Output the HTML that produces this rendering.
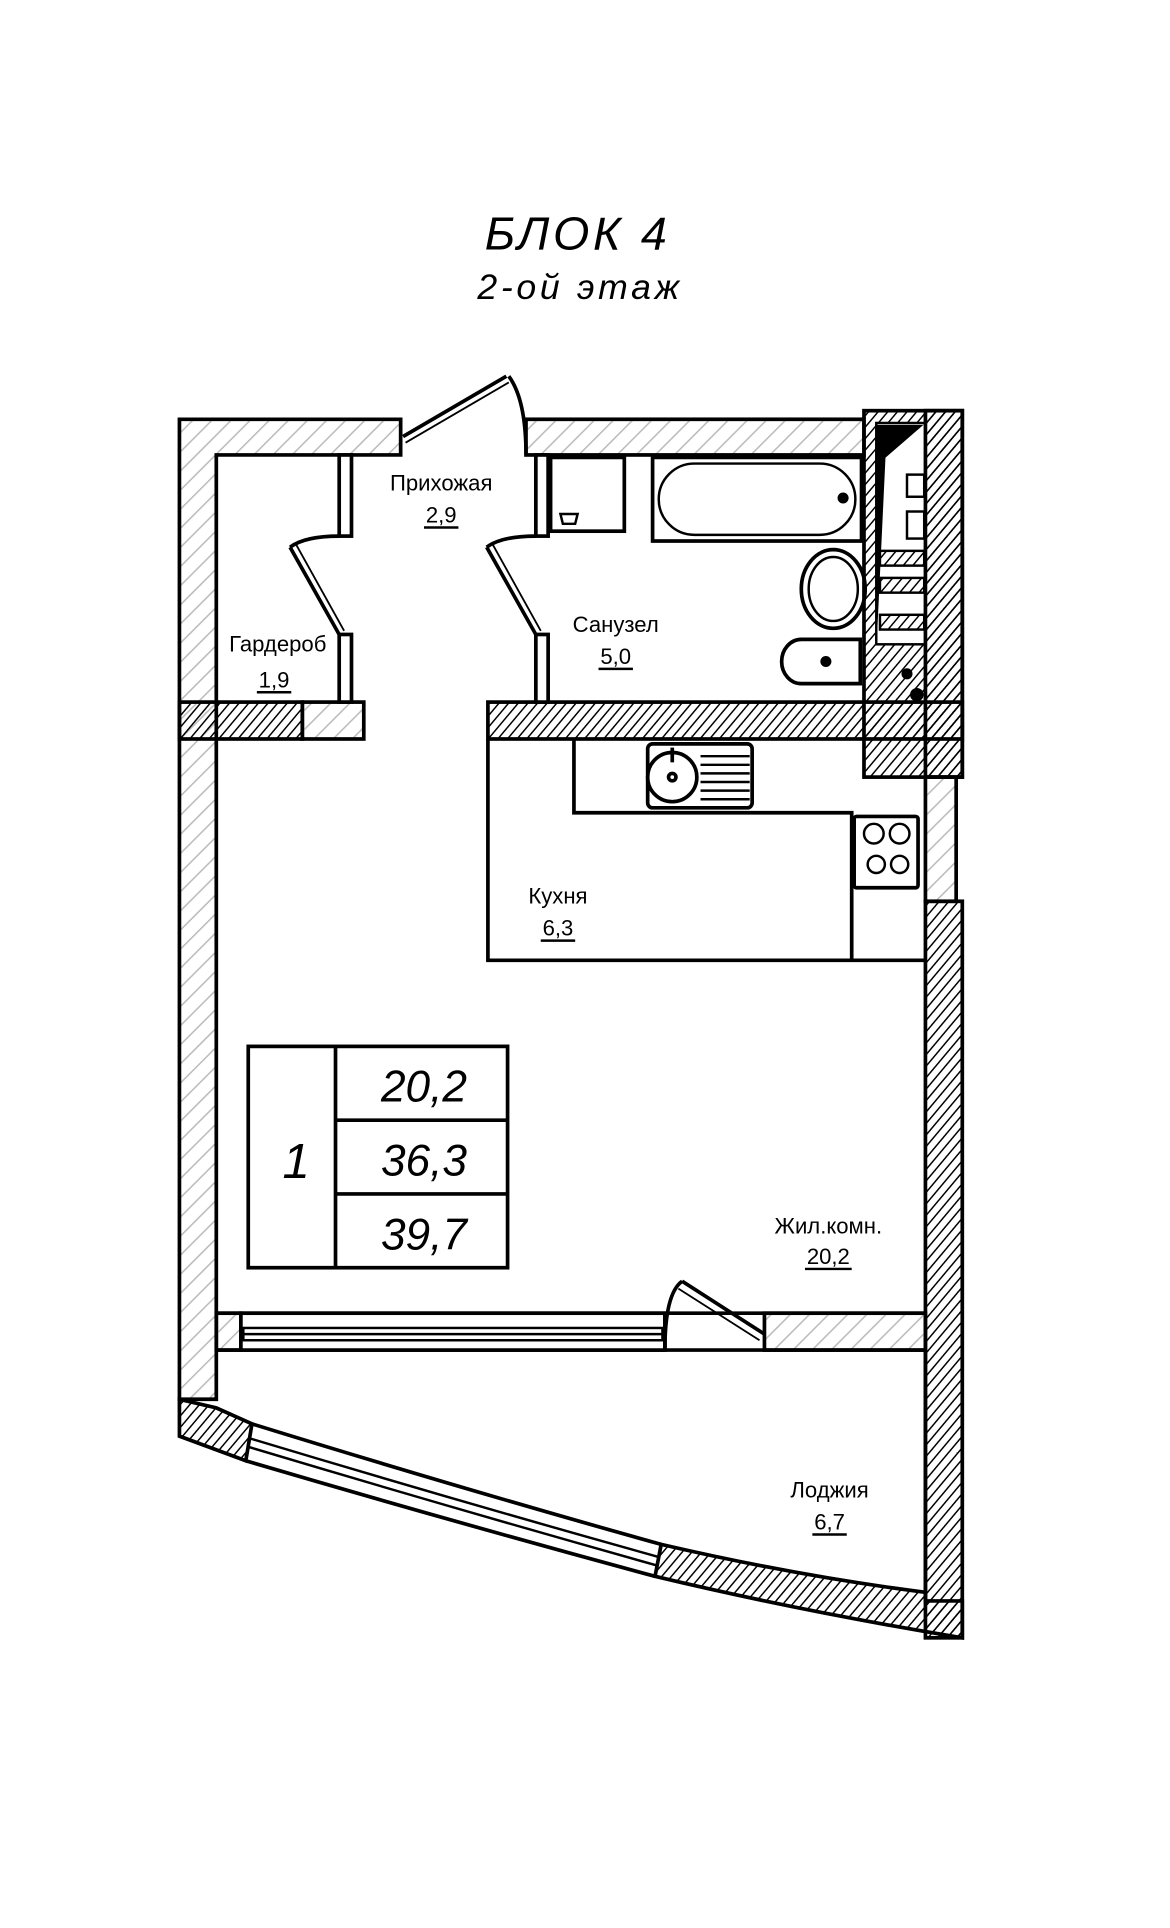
<!DOCTYPE html>
<html><head><meta charset="utf-8"><style>
html,body{margin:0;padding:0;background:#fff;}
svg{display:block;}
text{font-family:"Liberation Sans",sans-serif;}
</style></head><body>
<svg width="1170" height="1928" viewBox="0 0 952 1568" preserveAspectRatio="none" xmlns="http://www.w3.org/2000/svg">
<defs>
<pattern id="lt" patternUnits="userSpaceOnUse" width="11" height="11" patternTransform="rotate(45)">
<line x1="0" y1="0" x2="0" y2="11" stroke="#bbb" stroke-width="2.5"/></pattern>
<pattern id="dk" patternUnits="userSpaceOnUse" width="6" height="6" patternTransform="rotate(40)">
<line x1="0" y1="0" x2="0" y2="6" stroke="#000" stroke-width="2.4"/></pattern>
</defs>
<rect width="952" height="1568" fill="#fff"/>

<text x="470" y="203" font-size="38" font-style="italic" text-anchor="middle" letter-spacing="3">БЛОК 4</text>
<text x="472" y="243" font-size="29" font-style="italic" text-anchor="middle" letter-spacing="3">2-ой этаж</text>

<g stroke="#000" stroke-width="3">
<path d="M146,341 H326 V370 H176 V1138 H146 Z" fill="url(#lt)"/>
<rect x="428" y="341" width="275" height="29" fill="url(#lt)"/>
<rect x="703" y="334" width="80" height="298" fill="url(#dk)"/>
<rect x="713" y="344" width="40" height="180" fill="#fff" stroke-width="2"/>
<rect x="753" y="334" width="30" height="298" fill="url(#dk)"/>
<polygon points="713,346 750,346 720,372 713,520" fill="#000" stroke-width="1"/>
<rect x="738" y="386" width="14" height="18" fill="#fff" stroke-width="2"/>
<rect x="738" y="416" width="14" height="22" fill="#fff" stroke-width="2"/>
<rect x="716" y="448" width="36" height="12" fill="url(#dk)" stroke-width="2"/>
<rect x="716" y="470" width="36" height="12" fill="url(#dk)" stroke-width="2"/>
<rect x="716" y="500" width="36" height="12" fill="url(#dk)" stroke-width="2"/>
<rect x="146" y="571" width="100" height="30" fill="url(#dk)"/>
<rect x="246" y="571" width="50" height="30" fill="url(#lt)"/>
<rect x="397" y="571" width="386" height="30" fill="url(#dk)"/>
<rect x="753" y="632" width="25" height="101" fill="url(#lt)"/>
<rect x="753" y="733" width="30" height="599" fill="url(#dk)"/>
<rect x="276" y="370" width="10" height="66" fill="#fff"/>
<rect x="276" y="516" width="10" height="55" fill="#fff"/>
<rect x="436" y="370" width="10" height="66" fill="#fff"/>
<rect x="436" y="516" width="10" height="55" fill="#fff"/>
</g>

<g stroke="#000" fill="none" stroke-width="3">
<line x1="328" y1="355" x2="412" y2="306"/>
<line x1="330" y1="360" x2="414" y2="311" stroke-width="1.5"/>
<path d="M414,306 Q428,325 428,370"/>
<path d="M276,436 Q248,436 236,445"/>
<line x1="236" y1="445" x2="276" y2="516"/><line x1="241" y1="443" x2="280" y2="513" stroke-width="1.5"/>
<path d="M436,436 Q408,436 396,445"/>
<line x1="396" y1="445" x2="436" y2="516"/><line x1="401" y1="443" x2="440" y2="513" stroke-width="1.5"/>
</g>

<g stroke="#000" fill="none" stroke-width="3">
<rect x="448" y="372" width="60" height="60"/>
<path d="M456,418 h14 l-2,8 h-10 z" stroke-width="2"/>
<rect x="531" y="372" width="170" height="68"/>
<rect x="536" y="377" width="160" height="58" rx="29" stroke-width="2"/>
<ellipse cx="678" cy="479" rx="26" ry="32"/>
<ellipse cx="678" cy="479" rx="20" ry="26" stroke-width="2"/>
<path d="M700,520 h-48 a16,18 0 0 0 0,36 h48 z"/>
<circle cx="672" cy="538" r="3" fill="#000"/>
<circle cx="686" cy="405" r="3" fill="#000"/>
<circle cx="738" cy="548" r="3" fill="#000"/>
<circle cx="746" cy="565" r="4" fill="#000"/>
</g>

<g stroke="#000" fill="none" stroke-width="3">
<path d="M397,601 V781 H753"/>
<path d="M467,601 V661 H693 V781"/>
<rect x="527" y="605" width="85" height="52" rx="4"/>
<circle cx="547" cy="632" r="20"/>
<circle cx="547" cy="632" r="3"/>
<line x1="547" y1="608" x2="547" y2="620"/>
<g stroke-width="2"><line x1="570" y1="615" x2="610" y2="615"/><line x1="570" y1="622" x2="610" y2="622"/><line x1="570" y1="629" x2="610" y2="629"/><line x1="570" y1="636" x2="610" y2="636"/><line x1="570" y1="643" x2="610" y2="643"/><line x1="570" y1="650" x2="610" y2="650"/></g>
<rect x="695" y="664" width="52" height="58" rx="2"/>
<g stroke-width="2"><circle cx="711" cy="678" r="8"/><circle cx="732" cy="678" r="8"/><circle cx="713" cy="703" r="7"/><circle cx="732" cy="703" r="7"/></g>
</g>

<g stroke="#000" stroke-width="3">
<rect x="176" y="1068" width="20" height="30" fill="url(#lt)"/>
<rect x="622" y="1068" width="131" height="30" fill="url(#lt)"/>
<line x1="176" y1="1068" x2="753" y2="1068"/>
<line x1="176" y1="1098" x2="753" y2="1098"/>
<rect x="196" y="1068" width="345" height="30" fill="#fff"/>
<rect x="198" y="1080" width="341" height="10" fill="none" stroke-width="2"/>
<line x1="198" y1="1085" x2="539" y2="1085" stroke-width="2"/>
<line x1="541" y1="1068" x2="541" y2="1098"/>
<path d="M541,1098 Q541,1052 555,1042" fill="none"/>
<line x1="555" y1="1042" x2="622" y2="1085"/><line x1="552" y1="1048" x2="618" y2="1090" stroke-width="1.5"/>
</g>

<g stroke="#000" stroke-width="3">
<path d="M146,1138 L176,1145 L205,1158 L200,1188 L146,1168 Z" fill="url(#dk)"/>
<path d="M538,1256 Q650,1282 753,1295 L753,1302 L783,1302 L783,1332 Q650,1310 533,1282 Z" fill="url(#dk)"/>
<path d="M205,1158 Q380,1212 538,1256" fill="none"/>
<path d="M200,1188 Q370,1238 533,1282" fill="none"/>
<path d="M204,1170 Q370,1220 535,1266" fill="none" stroke-width="2"/>
<path d="M203,1177 Q370,1227 534,1273" fill="none" stroke-width="2"/>
<line x1="753" y1="1098" x2="753" y2="1300"/>
</g>

<g stroke="#000" stroke-width="3" fill="none">
<rect x="202" y="851" width="211" height="180"/>
<line x1="273" y1="851" x2="273" y2="1031"/>
<line x1="273" y1="911" x2="413" y2="911"/>
<line x1="273" y1="971" x2="413" y2="971"/>
</g>
<g font-size="36" font-style="italic" text-anchor="middle">
<text x="241" y="958" font-size="40">1</text>
<text x="345" y="896">20,2</text>
<text x="345" y="956">36,3</text>
<text x="345" y="1016">39,7</text>
</g>

<g font-size="18" text-anchor="middle">
<text x="359" y="399">Прихожая</text><text x="359" y="425">2,9</text>
<text x="226" y="530">Гардероб</text><text x="223" y="559">1,9</text>
<text x="501" y="514">Санузел</text><text x="501" y="540">5,0</text>
<text x="454" y="735">Кухня</text><text x="454" y="761">6,3</text>
<text x="674" y="1003">Жил.комн.</text><text x="674" y="1028">20,2</text>
<text x="675" y="1218">Лоджия</text><text x="675" y="1244">6,7</text>
</g>
<g stroke="#000" stroke-width="2">
<line x1="345" y1="429" x2="373" y2="429"/>
<line x1="209" y1="563" x2="237" y2="563"/>
<line x1="487" y1="544" x2="515" y2="544"/>
<line x1="440" y1="765" x2="468" y2="765"/>
<line x1="655" y1="1032" x2="693" y2="1032"/>
<line x1="661" y1="1248" x2="689" y2="1248"/>
</g>
</svg>
</body></html>
